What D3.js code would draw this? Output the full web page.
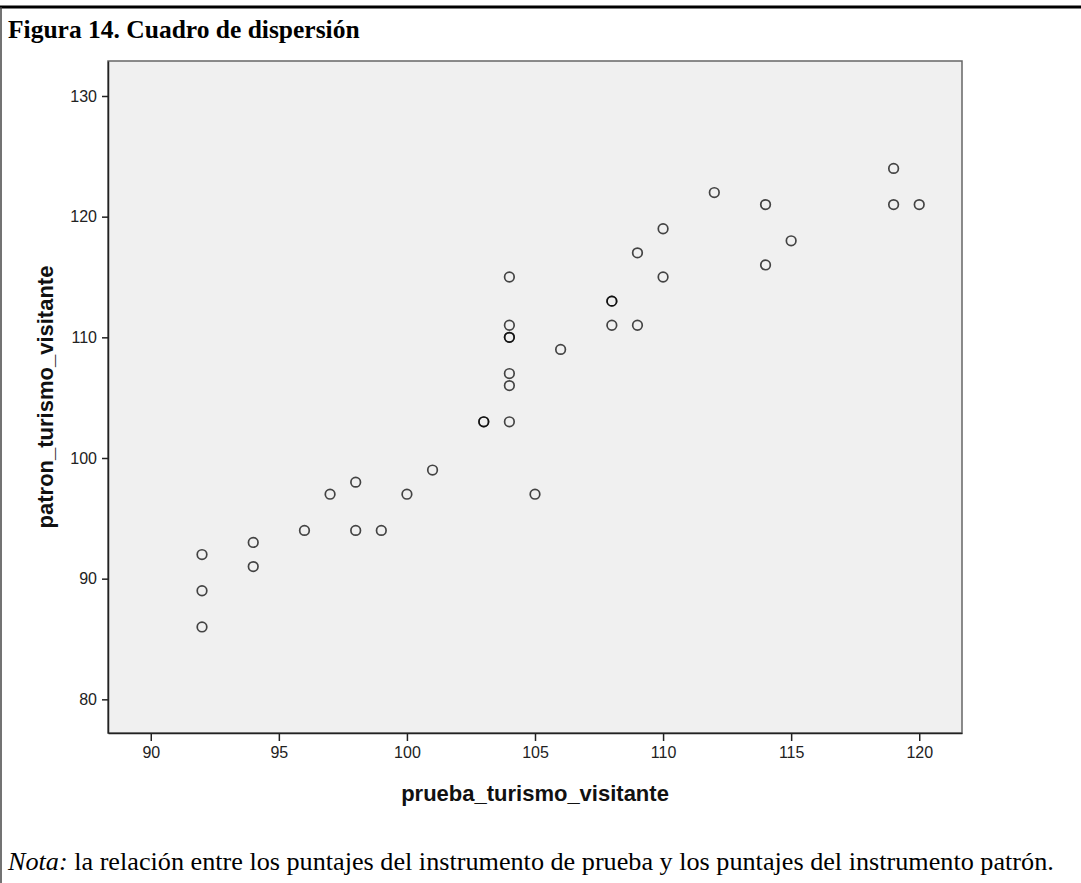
<!DOCTYPE html>
<html>
<head>
<meta charset="utf-8">
<script src="https://cdn.jsdelivr.net/npm/d3@7"></script>
<style>
  html, body { margin: 0; padding: 0; background: #fff; }
  svg { display: block; }
</style>
</head>
<body>
<script>
// ---- data ----
const pruebaValues = [92, 92, 92, 94, 94, 96, 97, 98, 98, 99, 100, 101, 103, 103,
  104, 104, 104, 104, 104, 104, 104, 105, 106, 108, 108, 108, 109, 109, 110, 110,
  112, 114, 114, 115, 119, 119, 120];
const patronValues = [92, 89, 86, 93, 91, 94, 97, 98, 94, 94, 97, 99, 103, 103,
  115, 111, 110, 110, 107, 106, 103, 97, 109, 113, 113, 111, 117, 111, 119, 115,
  122, 121, 116, 118, 124, 121, 121];
const xTicks = [90, 95, 100, 105, 110, 115, 120];
const yTicks = [80, 90, 100, 110, 120, 130];
const titleText = "Figura 14. Cuadro de dispersión";
const xTitle = "prueba_turismo_visitante";
const yTitle = "patron_turismo_visitante";
const notaLabel = "Nota:";
const notaText = " la relación entre los puntajes del instrumento de prueba y los puntajes del instrumento patrón.";

const W = 1081, H = 883;
const plot = { left: 108, right: 962, top: 61, bottom: 733 };

const svg = d3.select("body").append("svg").attr("width", W).attr("height", H);
svg.append("rect").attr("width", W).attr("height", H).attr("fill", "#fff");

// outer frame lines
svg.append("line").attr("x1", 0).attr("x2", W).attr("y1", 7).attr("y2", 7)
  .attr("stroke", "#000").attr("stroke-width", 3);
svg.append("line").attr("x1", 1).attr("x2", 1).attr("y1", 7).attr("y2", H)
  .attr("stroke", "#444").attr("stroke-width", 1.5);

// title
svg.append("text").attr("x", 8).attr("y", 38)
  .attr("font-family", "'Liberation Serif', 'Times New Roman', serif")
  .attr("font-weight", "bold").attr("font-size", 25.5).attr("fill", "#000")
  .text(titleText);

const x = d3.scaleLinear().domain([88.33, 121.67]).range([plot.left, plot.right]);
const y = d3.scaleLinear().domain([77.21, 132.9]).range([plot.bottom, plot.top]);

// plot background
svg.append("rect")
  .attr("x", plot.left).attr("y", plot.top)
  .attr("width", plot.right - plot.left).attr("height", plot.bottom - plot.top)
  .attr("fill", "#f0f0f0").attr("stroke", "#666").attr("stroke-width", 1.5);

const tickFont = "'Liberation Sans', Arial, sans-serif";

const xAxis = svg.append("g").attr("transform", `translate(0,${plot.bottom})`)
  .call(d3.axisBottom(x).tickValues(xTicks).tickSize(8).tickPadding(6).tickSizeOuter(0));
const yAxis = svg.append("g").attr("transform", `translate(${plot.left},0)`)
  .call(d3.axisLeft(y).tickValues(yTicks).tickSize(6).tickPadding(5).tickSizeOuter(0));

[xAxis, yAxis].forEach(g => {
  g.select(".domain").attr("stroke", "#222").attr("stroke-width", 1.5);
  g.selectAll(".tick line").attr("stroke", "#222").attr("stroke-width", 1.5);
  g.selectAll(".tick text").attr("font-family", tickFont).attr("font-size", 16).attr("fill", "#222");
});

// axis titles
svg.append("text")
  .attr("x", (plot.left + plot.right) / 2).attr("y", 801)
  .attr("text-anchor", "middle")
  .attr("font-family", tickFont).attr("font-weight", "bold").attr("font-size", 22)
  .attr("fill", "#111").text(xTitle);
svg.append("text")
  .attr("transform", `translate(53,${(plot.top + plot.bottom) / 2}) rotate(-90)`)
  .attr("text-anchor", "middle")
  .attr("font-family", tickFont).attr("font-weight", "bold").attr("font-size", 22)
  .attr("fill", "#111").text(yTitle);

// points
const pts = pruebaValues.map((v, i) => ({ x: v, y: patronValues[i] }));
svg.append("g").selectAll("circle").data(pts).join("circle")
  .attr("cx", d => x(d.x)).attr("cy", d => y(d.y)).attr("r", 4.8)
  .attr("fill", "none").attr("stroke", "#000").attr("stroke-opacity", 0.72)
  .attr("stroke-width", 1.7);

// nota
const nota = svg.append("text").attr("x", 8).attr("y", 870)
  .attr("font-family", "'Liberation Serif', 'Times New Roman', serif")
  .attr("font-size", 26.2).attr("fill", "#000");
nota.append("tspan").attr("font-style", "italic").text(notaLabel);
nota.append("tspan").text(notaText);
</script>
</body>
</html>
